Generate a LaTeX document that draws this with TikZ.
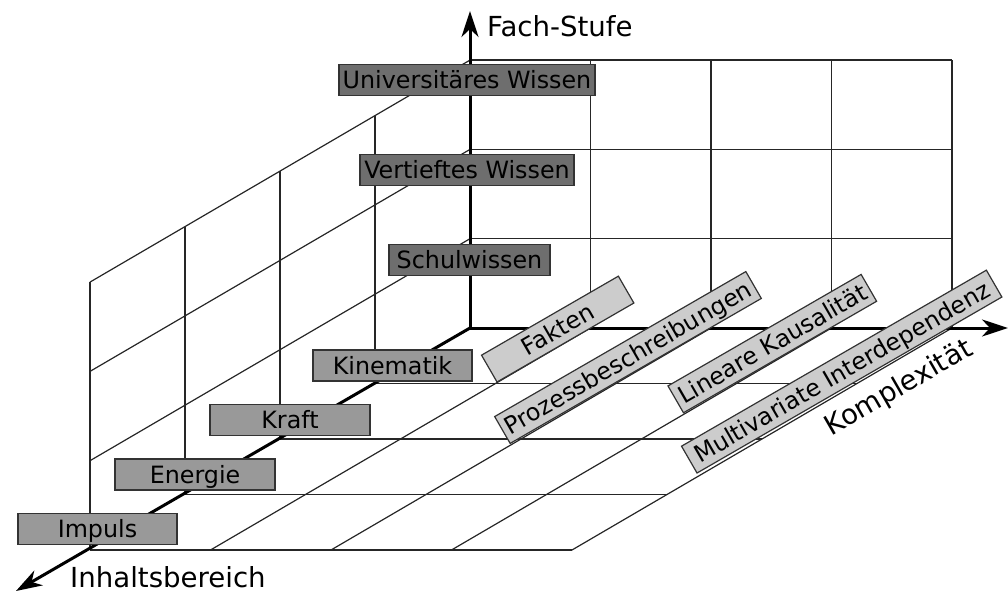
\documentclass[tikz,border=0pt]{standalone}
\usepackage{fontspec}
\setmainfont{DejaVu Sans}
\usetikzlibrary{arrows.meta}
\begin{document}
\begin{tikzpicture}[x=1bp,y=-1bp,
  grid/.style={draw=black!85, line width=1.2bp},
  axis/.style={line width=3bp, -{Stealth[length=26bp,width=17bp,inset=8bp]}},
  box/.style={draw=black!80, line width=1.2bp, minimum height=31bp, inner sep=0pt,
    text height=17.5bp, text depth=0pt, font=\fontsize{23.8bp}{28bp}\selectfont},
  darkbox/.style={box, fill=black!57},
  midbox/.style={box, fill=black!40},
  lightbox/.style={box, fill=black!20, rotate=30},
  lab/.style={inner sep=0pt, font=\fontsize{27.6bp}{32bp}\selectfont}]
\useasboundingbox (0,0) rectangle (1008,593);
% back wall
\foreach \i in {1,...,4} \draw[grid] ({470+120.5*\i},328) -- ({470+120.5*\i},60.1);
\foreach \j in {1,2,3} \draw[grid] (470,{328-89.3*\j}) -- (952,{328-89.3*\j});
% left wall
\foreach \k in {1,...,4} \draw[grid] ({470-95*\k},{328+55.5*\k}) -- ({470-95*\k},{328+55.5*\k-267.9});
\foreach \j in {1,2,3} \draw[grid] (470,{328-89.3*\j}) -- (90,{550-89.3*\j});
% floor
\foreach \i in {1,...,4} \draw[grid] ({470+120.5*\i},328) -- ({90+120.5*\i},550);
\foreach \k in {1,...,4} \draw[grid] ({470-95*\k},{328+55.5*\k}) -- ({952-95*\k},{328+55.5*\k});
% axes
\coordinate (O) at (470,328);
\coordinate (top) at (470,11);
\coordinate (right) at (1008,328);
\coordinate (front) at (16,591);
\draw[axis] (O) -- (top);
\draw[axis] (O) -- (right);
\draw[axis] (O) -- (front);
% level boxes
\node[darkbox, minimum width=256bp] (univ) at (467,80) {Universitäres Wissen};
\node[darkbox, minimum width=214bp] (vert) at (467,170) {Vertieftes Wissen};
\node[darkbox, minimum width=161bp] (schul) at (469.5,260) {Schulwissen};
% content boxes
\node[midbox, minimum width=159bp] (kin) at (392.5,365.5) {Kinematik};
\node[midbox, minimum width=160bp] (kraft) at (290,420) {Kraft};
\node[midbox, minimum width=160bp] (energie) at (195,474.5) {Energie};
\node[midbox, minimum width=159bp] (impuls) at (97.5,529) {Impuls};
% complexity boxes
\node[lightbox, minimum width=158bp] (fakten) at (557.7,329.1) {Fakten};
\node[lightbox, minimum width=290bp] (prozess) at (628,357.5) {Prozessbeschreibungen};
\node[lightbox, minimum width=223bp] (linear) at (772.3,343.6) {Lineare Kausalität};
\node[lightbox, minimum width=352bp] (multi) at (841.7,371.6) {Multivariate Interdependenz};
% axis labels
\node[lab, anchor=base west] (fach) at (487,37) {Fach-Stufe};
\node[lab, anchor=base west] (inhalt) at (70,587) {Inhaltsbereich};
\node[lab, anchor=base, rotate=30] (komplex) at (903,395) {Komplexität};
\end{tikzpicture}
\end{document}
